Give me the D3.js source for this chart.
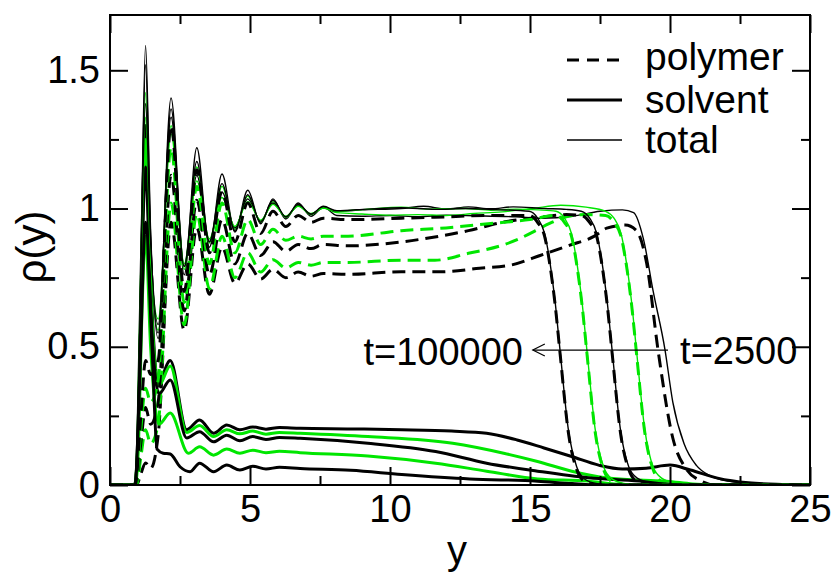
<!DOCTYPE html>
<html>
<head>
<meta charset="utf-8">
<script src="https://cdnjs.cloudflare.com/ajax/libs/d3/7.8.5/d3.min.js"></script>
<style>
  body { margin: 0; background: #fff; }
  text { font-family: "Liberation Sans", Arial, Helvetica, sans-serif; fill: #000; }
</style>
</head>
<body>
<svg id="chart" width="838" height="574"></svg>
<script>
// density profiles rho(y), five snapshots: 1 = t=2500 ... 5 = t=100000
// each point is [y, rho]

var polymer1 = [[0,0],[0.95,0],[1.1,0.04],[1.27,0.08],[1.45,0.06],[1.72,0.18],[2.18,0.95],[2.65,0.56],[3.1,0.93],[3.55,0.69],[4.0,0.86],[4.46,0.73],[4.92,0.8],[5.38,0.745],[5.82,0.78],[6.28,0.75],[6.72,0.77],[7.18,0.755],[7.62,0.765],[8.5,0.762],[10.4,0.771],[11.8,0.771],[13.2,0.784],[14.3,0.795],[15.36,0.83],[16.4,0.867],[17.3,0.9],[17.74,0.929],[18.4,0.94],[18.8,0.92],[19.17,0.8],[19.57,0.49],[20.1,0.17],[20.6,0.055],[21.1,0.015],[21.6,0],[25,0]];
var polymer2 = [[0,0],[0.95,0],[1.1,0.1],[1.27,0.2],[1.45,0.15],[1.72,0.22],[2.18,1.02],[2.65,0.58],[3.1,0.98],[3.55,0.71],[4.0,0.9],[4.46,0.75],[4.92,0.84],[5.38,0.77],[5.82,0.815],[6.28,0.785],[6.72,0.805],[7.18,0.795],[7.62,0.805],[8.5,0.805],[10.4,0.813],[11.6,0.813],[12.8,0.838],[14.0,0.867],[14.6,0.89],[15.2,0.92],[15.7,0.946],[16.3,0.97],[17.0,0.978],[17.7,0.975],[18.0,0.95],[18.25,0.9],[18.45,0.79],[18.63,0.65],[18.8,0.48],[19.1,0.19],[19.4,0.055],[19.7,0.012],[20.1,0],[25,0]];
var polymer3 = [[0,0],[0.92,0],[1.1,0.15],[1.27,0.28],[1.45,0.22],[1.72,0.3],[2.18,1.12],[2.65,0.63],[3.1,1.03],[3.55,0.76],[4.0,0.96],[4.46,0.8],[4.92,0.91],[5.38,0.83],[5.82,0.88],[6.28,0.845],[6.72,0.87],[7.18,0.855],[7.62,0.87],[8.5,0.865],[10.4,0.879],[11.6,0.897],[12.8,0.92],[14.0,0.95],[15.5,0.97],[16.3,0.978],[16.83,0.975],[17.13,0.95],[17.38,0.9],[17.58,0.79],[17.76,0.65],[17.93,0.48],[18.23,0.19],[18.53,0.055],[18.83,0.012],[19.25,0],[25,0]];
var polymer4 = [[0,0],[0.92,0],[1.1,0.2],[1.27,0.35],[1.45,0.3],[1.72,0.38],[2.18,1.22],[2.65,0.66],[3.1,1.08],[3.55,0.8],[4.0,1.02],[4.46,0.84],[4.92,0.96],[5.38,0.87],[5.82,0.925],[6.28,0.885],[6.72,0.9],[7.18,0.89],[7.62,0.9],[8.5,0.9],[10.4,0.92],[12.0,0.93],[13.5,0.945],[15.0,0.96],[15.93,0.975],[16.23,0.95],[16.48,0.9],[16.68,0.79],[16.86,0.65],[17.03,0.48],[17.33,0.19],[17.63,0.055],[17.93,0.012],[18.35,0],[25,0]];
var polymer5 = [[0,0],[0.9,0],[1.1,0.25],[1.27,0.45],[1.45,0.4],[1.72,0.45],[2.18,1.3],[2.65,0.7],[3.1,1.14],[3.55,0.84],[4.0,1.06],[4.46,0.88],[4.92,1.02],[5.38,0.91],[5.82,0.99],[6.28,0.935],[6.72,0.975],[7.18,0.95],[7.62,0.965],[8.5,0.96],[10.4,0.965],[12.0,0.97],[13.5,0.975],[14.97,0.975],[15.27,0.95],[15.52,0.9],[15.72,0.79],[15.9,0.65],[16.07,0.48],[16.37,0.19],[16.67,0.055],[16.97,0.012],[17.4,0],[25,0]];

var solvent1 = [[0,0],[0.88,0],[1.0,0.2],[1.12,0.8],[1.27,1.3],[1.45,0.75],[1.72,0.37],[2.15,0.45],[2.74,0.2],[3.2,0.235],[3.7,0.187],[4.17,0.217],[4.64,0.2],[5.1,0.21],[5.57,0.202],[6.05,0.208],[6.79,0.205],[8.6,0.203],[10.42,0.2],[12.2,0.195],[13.45,0.187],[14.54,0.163],[15.5,0.134],[16.49,0.103],[17.45,0.072],[18.3,0.058],[19.15,0.061],[20.0,0.072],[20.73,0.054],[21.7,0.025],[22.8,0.008],[24,0.002],[25,0]];
var solvent2 = [[0,0],[0.88,0],[1.0,0.18],[1.12,0.75],[1.27,1.25],[1.45,0.7],[1.75,0.36],[2.15,0.43],[2.74,0.19],[3.2,0.215],[3.7,0.175],[4.17,0.2],[4.64,0.185],[5.1,0.195],[5.57,0.184],[6.05,0.19],[6.79,0.187],[9.21,0.175],[12.24,0.151],[14.06,0.115],[15.27,0.085],[16.49,0.05],[17.7,0.026],[18.9,0.018],[19.88,0.014],[20.8,0.004],[21.8,0],[25,0]];
var solvent3 = [[0,0],[0.88,0],[1.0,0.16],[1.12,0.7],[1.27,1.15],[1.45,0.65],[1.75,0.33],[2.15,0.38],[2.74,0.17],[3.2,0.193],[3.7,0.156],[4.17,0.18],[4.64,0.16],[5.1,0.175],[5.57,0.165],[6.05,0.172],[6.79,0.169],[9.21,0.151],[11.63,0.121],[13.45,0.079],[15.27,0.05],[17.09,0.026],[18.9,0.014],[19.8,0.004],[20.5,0],[25,0]];
var solvent4 = [[0,0],[0.9,0],[1.02,0.15],[1.12,0.55],[1.27,0.9],[1.45,0.5],[1.75,0.22],[2.15,0.26],[2.8,0.115],[3.2,0.138],[3.7,0.108],[4.17,0.13],[4.64,0.115],[5.1,0.126],[5.57,0.117],[6.05,0.122],[6.79,0.117],[9.21,0.105],[11.63,0.079],[13.45,0.05],[15.27,0.022],[17.09,0.014],[18.0,0.004],[19.0,0],[25,0]];
var solvent5 = [[0,0],[0.9,0],[1.05,0.35],[1.27,0.95],[1.5,0.5],[1.68,0.13],[1.9,0.115],[2.15,0.112],[2.5,0.066],[2.86,0.048],[3.2,0.079],[3.7,0.048],[4.17,0.072],[4.64,0.054],[5.1,0.068],[5.57,0.058],[6.05,0.064],[6.79,0.06],[8.6,0.053],[10.42,0.038],[12.85,0.022],[15.27,0.014],[16.5,0.005],[17.5,0],[25,0]];

var total1 = [[0,0],[0.88,0],[1.0,0.25],[1.12,0.9],[1.27,1.59],[1.45,0.92],[1.72,0.53],[2.18,1.40],[2.65,0.76],[3.1,1.22],[3.55,0.86],[4.0,1.125],[4.46,0.915],[4.92,1.066],[5.38,0.945],[5.82,1.035],[6.28,0.962],[6.72,1.02],[7.18,0.972],[7.62,1.005],[8.1,0.975],[9.0,0.972],[10.0,0.975],[11.0,0.97],[12.0,0.976],[13.0,0.974],[14.5,0.97],[15.4,0.965],[16.5,0.972],[17.5,0.99],[18.3,0.995],[18.7,0.985],[19.05,0.89],[19.4,0.7],[19.82,0.49],[20.1,0.3],[20.5,0.15],[20.95,0.07],[21.4,0.035],[22.1,0.014],[23.2,0.004],[25,0]];
var total2 = [[0,0],[0.88,0],[1.0,0.22],[1.12,0.82],[1.27,1.42],[1.45,0.85],[1.72,0.56],[2.18,1.30],[2.65,0.78],[3.1,1.15],[3.55,0.875],[4.0,1.08],[4.46,0.925],[4.92,1.045],[5.38,0.95],[5.82,1.025],[6.28,0.968],[6.72,1.012],[7.18,0.978],[7.62,1.002],[8.1,0.985],[9.0,0.98],[10.0,0.976],[11.0,0.978],[12.0,0.975],[13.0,0.982],[14.0,0.988],[15.1,1.0],[16.1,1.012],[17.0,1.005],[17.7,0.99],[18.0,0.965],[18.25,0.91],[18.45,0.8],[18.63,0.66],[18.8,0.49],[19.1,0.2],[19.4,0.065],[19.7,0.025],[20.1,0.01],[21,0.002],[22,0],[25,0]];
var total3 = [[0,0],[0.88,0],[1.0,0.24],[1.12,0.88],[1.27,1.52],[1.45,0.9],[1.72,0.55],[2.18,1.36],[2.65,0.79],[3.1,1.12],[3.55,0.88],[4.0,1.06],[4.46,0.93],[4.92,1.035],[5.38,0.955],[5.82,1.02],[6.28,0.97],[6.72,1.01],[7.18,0.98],[7.62,1.003],[8.1,0.99],[9.0,0.995],[10.4,1.0],[11.2,1.008],[12.0,0.998],[12.8,1.006],[13.6,0.999],[14.4,1.006],[15.5,1.0],[16.3,0.997],[16.83,0.99],[17.13,0.965],[17.38,0.91],[17.58,0.8],[17.76,0.66],[17.93,0.49],[18.23,0.2],[18.53,0.065],[18.83,0.025],[19.25,0.01],[20,0.003],[21,0],[25,0]];
var total4 = [[0,0],[0.88,0],[1.0,0.2],[1.12,0.78],[1.27,1.33],[1.45,0.82],[1.72,0.6],[2.18,1.27],[2.65,0.8],[3.1,1.10],[3.55,0.89],[4.0,1.04],[4.46,0.935],[4.92,1.025],[5.38,0.958],[5.82,1.015],[6.28,0.972],[6.72,1.008],[7.18,0.982],[7.62,1.002],[8.1,0.99],[9.2,0.998],[10.4,1.005],[11.4,0.998],[12.7,1.0],[13.6,0.994],[14.5,0.998],[15.3,0.995],[15.93,0.99],[16.23,0.965],[16.48,0.91],[16.68,0.8],[16.86,0.66],[17.03,0.49],[17.33,0.2],[17.63,0.065],[17.93,0.022],[18.35,0.006],[19,0],[25,0]];
var total5 = [[0,0],[0.88,0],[1.0,0.26],[1.12,0.85],[1.27,1.38],[1.45,0.88],[1.72,0.58],[2.18,1.33],[2.65,0.79],[3.1,1.17],[3.55,0.88],[4.0,1.09],[4.46,0.92],[4.92,1.05],[5.38,0.95],[5.82,1.03],[6.28,0.97],[6.72,1.015],[7.18,0.98],[7.62,1.008],[8.1,0.992],[9.2,0.998],[10.4,1.003],[11.6,0.997],[12.7,1.0],[13.8,0.996],[14.97,0.99],[15.27,0.965],[15.52,0.91],[15.72,0.8],[15.9,0.66],[16.07,0.49],[16.37,0.2],[16.67,0.065],[16.97,0.02],[17.4,0.005],[18,0],[25,0]];

var snapColors = ["#000000", "#00e600", "#000000", "#00e600", "#000000"];

var xMajor = [0, 5, 10, 15, 20, 25];
var xMinor = [2.5, 7.5, 12.5, 17.5, 22.5];
var yMajor = [0, 0.5, 1, 1.5];
var yMinor = [0.25, 0.75, 1.25];

var legendNames = ["polymer", "solvent", "total"];

// ---- layout
var padL = 110, padR = 810, padT = 15, padB = 485;

var svg = d3.select("#chart");

var x = d3.scaleLinear().domain([0, 25]).range([padL, padR]);
var y = d3.scaleLinear().domain([0, 1.7]).range([padB, padT]);

var styles = {
  polymer: { width: 3, dash: "13,7" },
  solvent: { width: 3, dash: null },
  total: { width: 1.4, dash: null }
};

var series = [
  { data: polymer1, kind: "polymer", i: 0 },
  { data: solvent1, kind: "solvent", i: 0 },
  { data: total1, kind: "total", i: 0 },
  { data: polymer2, kind: "polymer", i: 1 },
  { data: solvent2, kind: "solvent", i: 1 },
  { data: total2, kind: "total", i: 1 },
  { data: polymer3, kind: "polymer", i: 2 },
  { data: solvent3, kind: "solvent", i: 2 },
  { data: total3, kind: "total", i: 2 },
  { data: polymer4, kind: "polymer", i: 3 },
  { data: solvent4, kind: "solvent", i: 3 },
  { data: total4, kind: "total", i: 3 },
  { data: polymer5, kind: "polymer", i: 4 },
  { data: solvent5, kind: "solvent", i: 4 },
  { data: total5, kind: "total", i: 4 }
];

var line = d3.line()
  .x(function(d) { return x(d[0]); })
  .y(function(d) { return y(d[1]); })
  .curve(d3.curveMonotoneX);

svg.append("clipPath").attr("id", "plotclip")
  .append("rect").attr("x", padL).attr("y", padT)
  .attr("width", padR - padL).attr("height", padB - padT);

var plot = svg.append("g").attr("clip-path", "url(#plotclip)");

series.forEach(function(s) {
  plot.append("path")
    .datum(s.data)
    .attr("d", line)
    .attr("fill", "none")
    .attr("stroke", snapColors[s.i])
    .attr("stroke-width", styles[s.kind].width)
    .attr("stroke-dasharray", styles[s.kind].dash)
    .attr("stroke-linejoin", "round");
});

// ---- axes (ticks pointing inward on all four sides)
function styleAxis(g) {
  g.select(".domain").remove();
  g.selectAll(".tick line").attr("stroke", "#000").attr("stroke-width", 2);
  g.selectAll(".tick text").style("font-size", "38px").attr("fill", "#000");
}

svg.append("g").attr("transform", "translate(0," + padB + ")")
  .call(d3.axisBottom(x).tickValues(xMajor).tickSize(-18).tickPadding(10).tickFormat(d3.format("d")))
  .call(styleAxis);
svg.append("g").attr("transform", "translate(0," + padB + ")")
  .call(d3.axisBottom(x).tickValues(xMinor).tickSize(-9).tickFormat(""))
  .call(styleAxis);
svg.append("g").attr("transform", "translate(0," + padT + ")")
  .call(d3.axisTop(x).tickValues(xMajor).tickSize(-18).tickFormat(""))
  .call(styleAxis);
svg.append("g").attr("transform", "translate(0," + padT + ")")
  .call(d3.axisTop(x).tickValues(xMinor).tickSize(-9).tickFormat(""))
  .call(styleAxis);

svg.append("g").attr("transform", "translate(" + padL + ",0)")
  .call(d3.axisLeft(y).tickValues(yMajor).tickSize(-18).tickPadding(10).tickFormat(function(d) { return String(d); }))
  .call(styleAxis);
svg.append("g").attr("transform", "translate(" + padL + ",0)")
  .call(d3.axisLeft(y).tickValues(yMinor).tickSize(-9).tickFormat(""))
  .call(styleAxis);
svg.append("g").attr("transform", "translate(" + padR + ",0)")
  .call(d3.axisRight(y).tickValues(yMajor).tickSize(-18).tickFormat(""))
  .call(styleAxis);
svg.append("g").attr("transform", "translate(" + padR + ",0)")
  .call(d3.axisRight(y).tickValues(yMinor).tickSize(-9).tickFormat(""))
  .call(styleAxis);

svg.append("rect")
  .attr("x", padL).attr("y", padT)
  .attr("width", padR - padL).attr("height", padB - padT)
  .attr("fill", "none").attr("stroke", "#000").attr("stroke-width", 2);

// axis titles
svg.append("text")
  .attr("x", (padL + padR) / 2 - 3).attr("y", 564)
  .attr("text-anchor", "middle").style("font-size", "40px")
  .text("y");
svg.append("text")
  .attr("transform", "translate(46,247) rotate(-90)")
  .attr("text-anchor", "middle").style("font-size", "42px")
  .text("ρ(y)");

// ---- legend
legendNames.forEach(function(k, j) {
  var ly = 60 + j * 40;
  svg.append("line")
    .attr("x1", 567).attr("x2", 622).attr("y1", ly).attr("y2", ly)
    .attr("stroke", "#000")
    .attr("stroke-width", styles[k].width)
    .attr("stroke-dasharray", k === "polymer" ? "12,8" : null);
  svg.append("text")
    .attr("x", 645).attr("y", ly + (j === 0 ? 10 : 13))
    .style("font-size", "39px")
    .text(k);
});

// ---- time annotation with arrow
var arrowY = y(0.488);
svg.append("line")
  .attr("x1", x(19.93)).attr("x2", x(15.1))
  .attr("y1", arrowY).attr("y2", arrowY)
  .attr("stroke", "#000").attr("stroke-width", 1.2);
svg.append("path")
  .attr("d", "M" + (x(15.1) + 12) + "," + (arrowY - 6) + " L" + x(15.1) + "," + arrowY + " L" + (x(15.1) + 12) + "," + (arrowY + 6))
  .attr("fill", "none").attr("stroke", "#000").attr("stroke-width", 1.2);
svg.append("text")
  .attr("x", x(14.75)).attr("y", arrowY + 15)
  .attr("text-anchor", "end").style("font-size", "38px")
  .text("t=100000");
svg.append("text")
  .attr("x", x(20.36)).attr("y", arrowY + 14)
  .style("font-size", "38px")
  .text("t=2500");
</script>
</body>
</html>
